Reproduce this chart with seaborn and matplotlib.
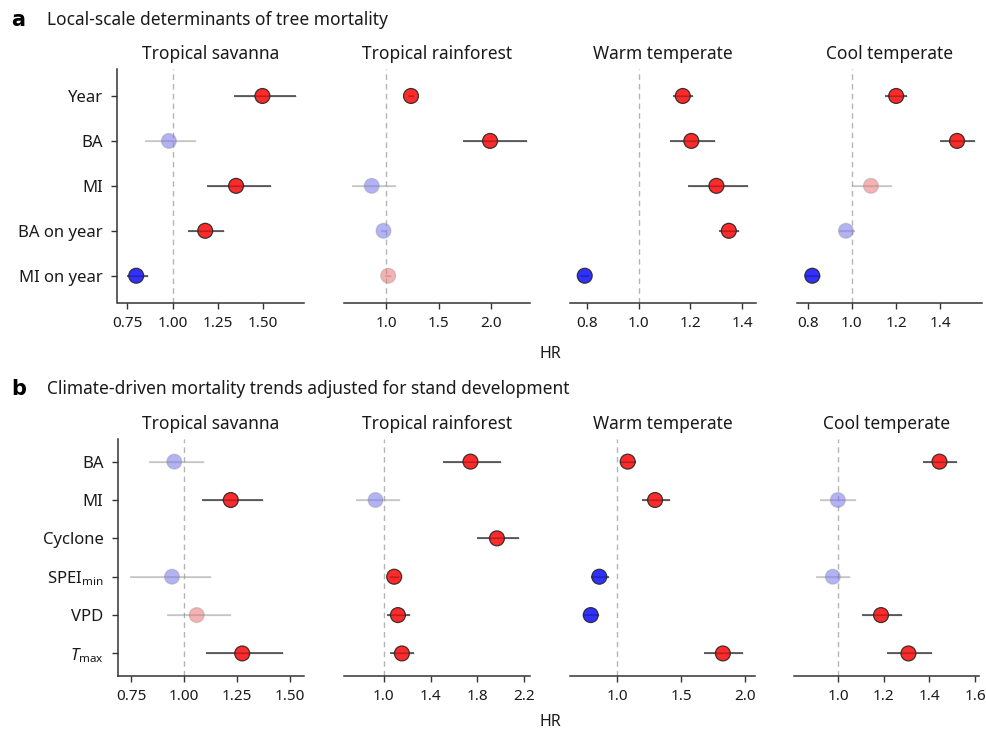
import numpy as np
import pandas as pd
import matplotlib
matplotlib.use("Agg")
import matplotlib.pyplot as plt
import seaborn as sns

# ---------------- data ----------------
biomes = ["Tropical savanna", "Tropical rainforest", "Warm temperate", "Cool temperate"]
a_vars = ["Year", "BA", "MI", "BA on year", "MI on year"]
b_vars = ["BA", "MI", "Cyclone", "SPEI$_{\\mathrm{min}}$", "VPD", "$T_{\\mathrm{max}}$"]

a_hr = [[1.495, 0.980, 1.350, 1.180, 0.800],
        [1.237, 1.990, 0.863, 0.975, 1.020],
        [1.171, 1.204, 1.301, 1.349, 0.792],
        [1.200, 1.475, 1.086, 0.973, 0.821]]
a_lo = [[1.336, 0.850, 1.190, 1.085, 0.750],
        [1.210, 1.730, 0.677, 0.955, 0.990],
        [1.133, 1.122, 1.192, 1.310, 0.775],
        [1.149, 1.396, 1.000, 0.943, 0.790]]
a_hi = [[1.680, 1.130, 1.540, 1.285, 0.865],
        [1.270, 2.340, 1.095, 1.000, 1.050],
        [1.212, 1.295, 1.423, 1.387, 0.810],
        [1.251, 1.557, 1.183, 1.012, 0.857]]
a_sig = [[1, 0, 1, 1, 1],
         [1, 1, 0, 0, 0],
         [1, 1, 1, 1, 1],
         [1, 1, 0, 0, 1]]

nan = np.nan
b_hr = [[0.953, 1.220, nan, 0.942, 1.059, 1.274],
        [1.742, 0.928, 1.969, 1.088, 1.120, 1.154],
        [1.081, 1.295, nan, 0.859, 0.792, 1.825],
        [1.444, 0.999, nan, 0.977, 1.188, 1.308]]
b_lo = [[0.832, 1.084, nan, 0.742, 0.920, 1.105],
        [1.510, 0.763, 1.800, 1.050, 1.030, 1.054],
        [1.024, 1.190, nan, 0.792, 0.729, 1.680],
        [1.374, 0.923, nan, 0.905, 1.106, 1.215]]
b_hi = [[1.093, 1.374, nan, 1.125, 1.220, 1.465],
        [2.003, 1.140, 2.156, 1.125, 1.220, 1.256],
        [1.146, 1.415, nan, 0.935, 0.859, 1.980],
        [1.520, 1.080, nan, 1.051, 1.279, 1.410]]
b_sig = [[0, 1, 0, 0, 0, 1],
         [1, 0, 1, 1, 1, 1],
         [1, 1, 0, 1, 1, 1],
         [1, 0, 0, 0, 1, 1]]

a_xticks = [[0.75, 1.00, 1.25, 1.50], [1.0, 1.5, 2.0], [0.8, 1.0, 1.2, 1.4], [0.8, 1.0, 1.2, 1.4]]
b_xticks = [[0.75, 1.00, 1.25, 1.50], [1.0, 1.4, 1.8, 2.2], [1.0, 1.5, 2.0], [1.0, 1.2, 1.4, 1.6]]
a_fmt = ["%.2f", "%.1f", "%.1f", "%.1f"]
b_fmt = ["%.2f", "%.1f", "%.1f", "%.1f"]

# ---------------- layout ----------------
a_xlim = [(0.697, 1.724), (0.604, 2.37), (0.737, 1.454), (0.752, 1.59)]
b_xlim = [(0.687, 1.566), (0.662, 2.248), (0.63, 2.08), (0.807, 1.617)]

W, H = 987, 731
cols_a = [(117.5, 304), (344.5, 530), (570.5, 756), (797, 982.5)]
cols_b = [(118, 304), (344.5, 529.5), (570, 755.5), (794, 979)]
rows_px = {"a": (69, 302.7), "b": (439, 675.7)}

sns.set_theme(style="white")
FONT = "Noto Sans"
plt.rcParams["font.family"] = [FONT, "DejaVu Sans"]
plt.rcParams["mathtext.fontset"] = "custom"
plt.rcParams["mathtext.rm"] = FONT
plt.rcParams["mathtext.it"] = FONT + ":italic"

palette = {
    "up_sig": (1.0, 0.08, 0.08, 0.9),
    "down_sig": (0.1, 0.1, 1.0, 0.9),
    "up_ns": (0.93, 0.45, 0.45, 0.55),
    "down_ns": (0.45, 0.45, 0.93, 0.55),
}

fig = plt.figure(figsize=(W / 100, H / 100), dpi=100)


def make_df(vars_, hr, lo, hi, sig):
    rows = []
    for bi, b in enumerate(biomes):
        for vi, v in enumerate(vars_):
            h = hr[bi][vi]
            s = sig[bi][vi]
            key = ("up" if h > 1 else "down") + ("_sig" if s else "_ns")
            rows.append(dict(biome=b, var=v, pos=vi, HR=h, lo=lo[bi][vi], hi=hi[bi][vi],
                             sig=bool(s), key=key))
    return pd.DataFrame(rows)


dfa = make_df(a_vars, a_hr, a_lo, a_hi, a_sig)
dfb = make_df(b_vars, b_hr, b_lo, b_hi, b_sig)


def draw_row(df, vars_, row, cols_px, xlims, xticks, fmts, ylim, ms):
    top, bot = rows_px[row]
    for ci, b in enumerate(biomes):
        x0, x1 = cols_px[ci]
        ax = fig.add_axes([x0 / W, 1 - bot / H, (x1 - x0) / W, (bot - top) / H])
        sub = df[(df.biome == b)].dropna(subset=["HR"])
        ax.axvline(1.0, color="#b5b5b5", lw=1.0, ls=(0, (4, 3)), zorder=1)
        # CI lines
        for _, r in sub.iterrows():
            c = (0.15, 0.15, 0.15, 0.75) if r.sig else (0.6, 0.6, 0.6, 0.45)
            ax.hlines(r.pos, r.lo, r.hi, colors=[c], lw=1.3, zorder=2)
        sns.scatterplot(data=sub, x="HR", y="pos", hue="key", palette=palette,
                        s=ms, ax=ax, legend=False, zorder=3, linewidth=0.9)
        coll = ax.collections[-1]
        edges = [(0.15, 0.15, 0.15, 0.9) if s else (0.55, 0.55, 0.55, 0.35) for s in sub.sig]
        coll.set_edgecolors(edges)
        # CI line drawn faintly over marker
        for _, r in sub.iterrows():
            c = (0.2, 0.2, 0.2, 0.35) if r.sig else (0.6, 0.6, 0.6, 0.25)
            ax.hlines(r.pos, max(r.lo, r.HR - 0.5), min(r.hi, r.HR + 0.5), colors=[c], lw=1.0, zorder=4)
        ax.set_xlim(*xlims[ci])
        ax.set_ylim(*ylim)
        ax.set_xticks(xticks[ci])
        ax.set_xticklabels([fmts[ci] % t for t in xticks[ci]])
        ax.set_xlabel("")
        ax.set_ylabel("")
        ax.set_title(b, fontsize=12.5, pad=7, color="#1a1a1a")
        for s in ["top", "right"]:
            ax.spines[s].set_visible(False)
        ax.spines["bottom"].set_color("#333333")
        ax.spines["bottom"].set_linewidth(1.1)
        ax.tick_params(axis="x", direction="out", length=4.5, width=1.0, color="#333333",
                       labelsize=11, pad=5, labelcolor="#1a1a1a", bottom=True)
        if ci == 0:
            ax.set_yticks(range(len(vars_)))
            ax.set_yticklabels(vars_)
            ax.spines["left"].set_color("#333333")
            ax.spines["left"].set_linewidth(1.1)
            ax.tick_params(axis="y", direction="out", length=4.5, width=1.0, color="#333333",
                           labelsize=12, pad=6, labelcolor="#1a1a1a", left=True)
        else:
            ax.spines["left"].set_visible(False)
            ax.set_yticks([])


draw_row(dfa, a_vars, "a", cols_a, a_xlim, a_xticks, a_fmt, (4.6, -0.6), 115)
draw_row(dfb, b_vars, "b", cols_b, b_xlim, b_xticks, b_fmt, (5.58, -0.59), 115)

bold_font = ["DejaVu Sans"]
fig.text(11 / W, 1 - 20 / H, "a", fontsize=15, fontweight="bold", family=bold_font,
         va="center", ha="left", color="black")
fig.text(47 / W, 1 - 20 / H, "Local-scale determinants of tree mortality", fontsize=12.5,
         va="center", ha="left", color="#1a1a1a")
fig.text(11 / W, 1 - 389 / H, "b", fontsize=15, fontweight="bold", family=bold_font,
         va="center", ha="left", color="black")
fig.text(47 / W, 1 - 389 / H, "Climate-driven mortality trends adjusted for stand development", fontsize=12.5,
         va="center", ha="left", color="#1a1a1a")
fig.text(550 / W, 1 - 354 / H, "HR", fontsize=11.5, va="center", ha="center", color="#1a1a1a")
fig.text(550 / W, 1 - 722 / H, "HR", fontsize=11.5, va="center", ha="center", color="#1a1a1a")

fig.savefig("out.png", dpi=100)
